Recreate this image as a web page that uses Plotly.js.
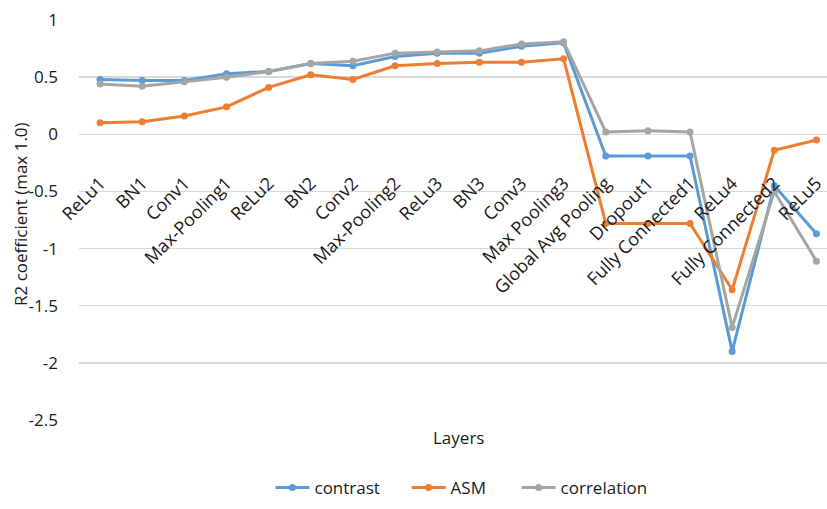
<!DOCTYPE html>
<html><head><meta charset="utf-8">
<script src="https://cdn.plot.ly/plotly-3.0.1.min.js"></script>
<style>html,body{margin:0;padding:0;background:#fff;}#chart{width:827px;height:509px;}</style>
</head><body><div id="chart"></div>
<script>
const layers = ["ReLu1","BN1","Conv1","Max-Pooling1","ReLu2","BN2","Conv2","Max-Pooling2","ReLu3","BN3","Conv3","Max Pooling3","Global Avg Pooling","Dropout1","Fully Connected1","ReLu4","Fully Connected2","ReLu5"];
const contrast    = [0.48,0.47,0.47,0.53,0.55,0.62,0.60,0.68,0.71,0.71,0.77,0.80,-0.19,-0.19,-0.19,-1.90,-0.45,-0.87];
const asm         = [0.10,0.11,0.16,0.24,0.41,0.52,0.48,0.60,0.62,0.63,0.63,0.66,-0.78,-0.78,-0.78,-1.36,-0.14,-0.05];
const correlation = [0.44,0.42,0.46,0.50,0.55,0.62,0.64,0.71,0.72,0.73,0.79,0.81,0.02,0.03,0.02,-1.69,-0.50,-1.11];
const yTickVals = [1, 0.5, 0, -0.5, -1, -1.5, -2, -2.5];
const yTickText = ["1", "0.5", "0", "-0.5", "-1", "-1.5", "-2", "-2.5"];

const mk = (name, y, color, lg) => ({
  x: layers, y: y, name: name, type: 'scatter', mode: 'lines+markers', legend: lg,
  line: {color: color, width: 3}, marker: {color: color, size: 7}
});
const data = [
  mk('contrast', contrast, '#5B9BD5', 'legend'),
  mk('ASM', asm, '#ED7D31', 'legend2'),
  mk('correlation', correlation, '#A5A5A5', 'legend3')
];
const TXT = '#1a1a1a';
const font = {family: 'Open Sans, Noto Sans, sans-serif', size: 17, color: TXT};
const lg = (x) => ({orientation: 'h', x: x, xanchor: 'left', y: -0.125, yanchor: 'top',
                    font: {size: 17, color: TXT}, bgcolor: 'rgba(0,0,0,0)', itemwidth: 34});
const layout = {
  width: 827, height: 509,
  margin: {l: 79, r: 0, t: 20, b: 89},
  paper_bgcolor: '#fff', plot_bgcolor: '#fff',
  font: font,
  showlegend: true,
  legend: lg(0.256), legend2: lg(0.438), legend3: lg(0.585),
  xaxis: {
    type: 'category', range: [-0.5, 17.25], anchor: 'free', position: 2.5/3.5,
    tickangle: -45, showgrid: false, zeroline: false, showline: false, ticks: '',
    ticklabelstandoff: 34,
    tickfont: {size: 18, color: TXT}
  },
  yaxis: {
    range: [-2.5, 1], tickmode: 'array', tickvals: yTickVals, ticktext: yTickText,
    showgrid: true, gridcolor: '#d9d9d9', gridwidth: 1.5,
    zeroline: true, zerolinecolor: '#d9d9d9', zerolinewidth: 1.5, showline: false, ticks: '',
    ticklabelstandoff: 20,
    tickfont: {size: 17, color: TXT}
  },
  annotations: [{
    text: 'Layers', xref: 'paper', yref: 'paper', x: 0.508, y: -0.01, xanchor: 'center', yanchor: 'top',
    showarrow: false, font: {size: 17, color: TXT}
  }, {
    text: 'R2 coefficient (max 1.0)', xref: 'paper', yref: 'paper', x: -0.0789, y: 0.515,
    xanchor: 'center', yanchor: 'middle', textangle: -90,
    showarrow: false, font: {size: 17, color: TXT}
  }]
};
Plotly.newPlot('chart', data, layout, {displayModeBar: false, staticPlot: true});
</script></body></html>
